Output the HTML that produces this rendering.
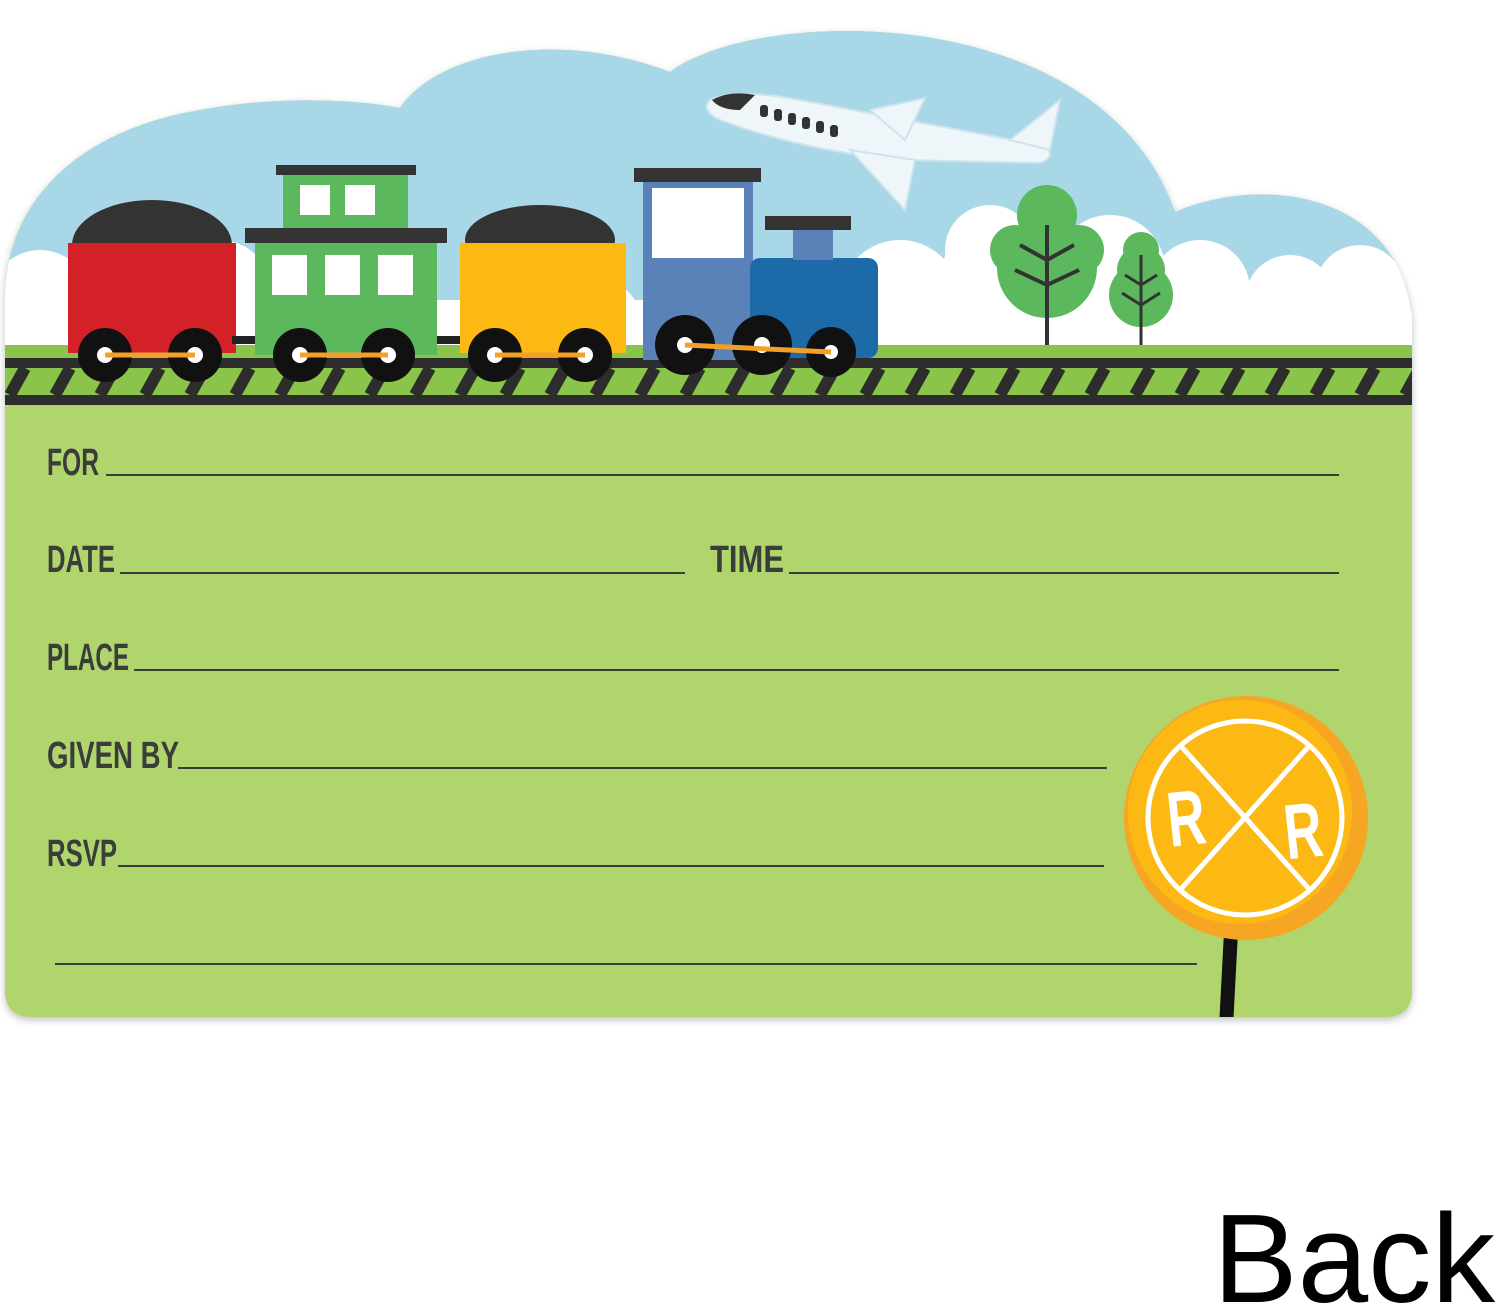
<!DOCTYPE html>
<html><head><meta charset="utf-8"><style>
html,body{margin:0;padding:0;background:#fff;width:1500px;height:1312px;overflow:hidden}
svg{display:block}
</style></head><body>
<svg width="1500" height="1312" viewBox="0 0 1500 1312" xmlns="http://www.w3.org/2000/svg">
<defs>
<clipPath id="card"><path d="M5,990 L5,300 C5,200 80,130 200,110 C280,95 360,100 400,108 C440,50 560,30 670,72 C760,5 1100,0 1175,212 C1260,175 1400,190 1412,320 L1412,990 Q1412,1017 1385,1017 L32,1017 Q5,1017 5,990 Z"/></clipPath>
<filter id="sh" x="-5%" y="-5%" width="110%" height="110%"><feDropShadow dx="0" dy="3" stdDeviation="4" flood-color="#000" flood-opacity="0.25"/></filter>
</defs>
<path filter="url(#sh)" fill="#b0d56c" d="M5,990 L5,300 C5,200 80,130 200,110 C280,95 360,100 400,108 C440,50 560,30 670,72 C760,5 1100,0 1175,212 C1260,175 1400,190 1412,320 L1412,990 Q1412,1017 1385,1017 L32,1017 Q5,1017 5,990 Z"/>
<g clip-path="url(#card)">
<rect x="0" y="0" width="1420" height="350" fill="#a8d8e8"/>
<g fill="#fff">
<circle cx="40" cy="300" r="50"/><circle cx="110" cy="310" r="45"/><circle cx="220" cy="290" r="50"/>
<circle cx="900" cy="300" r="60"/><circle cx="990" cy="250" r="45"/><circle cx="1000" cy="280" r="60"/>
<circle cx="1110" cy="270" r="55"/><circle cx="1200" cy="290" r="50"/><circle cx="1290" cy="300" r="45"/>
<circle cx="1360" cy="290" r="45"/><circle cx="1410" cy="300" r="40"/>
<circle cx="600" cy="320" r="40"/><circle cx="820" cy="320" r="40"/>
<rect x="0" y="300" width="1420" height="50"/>
</g>
<rect x="0" y="345" width="1420" height="14" fill="#8bc44a"/>
<rect x="0" y="358" width="1420" height="47" fill="#2d2d2d"/>
<rect x="0" y="368" width="1420" height="27" fill="#8bc44a"/>
<g stroke="#2d2d2d" stroke-width="12">
<path d="M10,395 L25,368 M55,395 L70,368 M100,395 L115,368 M145,395 L160,368 M190,395 L205,368 M235,395 L250,368 M280,395 L295,368 M325,395 L340,368 M370,395 L385,368 M415,395 L430,368 M460,395 L475,368 M505,395 L520,368 M550,395 L565,368 M595,395 L610,368 M640,395 L655,368 M685,395 L700,368 M730,395 L745,368 M775,395 L790,368 M820,395 L835,368 M865,395 L880,368 M910,395 L925,368 M955,395 L970,368 M1000,395 L1015,368 M1045,395 L1060,368 M1090,395 L1105,368 M1135,395 L1150,368 M1180,395 L1195,368 M1225,395 L1240,368 M1270,395 L1285,368 M1315,395 L1330,368 M1360,395 L1375,368 M1405,395 L1420,368"/>
</g>
<rect x="0" y="405" width="1420" height="620" fill="#b0d56c"/>
<path d="M710,100 Q740,88 800,100 L1040,145 Q1060,155 1040,163 L900,160 Q800,150 720,120 Q700,110 710,100Z" fill="#eef6fa" stroke="#cfe3ec" stroke-width="2"/>
<path d="M870,110 L925,98 L905,140Z M850,150 L905,210 L915,160Z M1010,140 L1060,100 L1050,150Z" fill="#eef6fa" stroke="#cfe3ec" stroke-width="2"/>
<path d="M712,100 Q730,90 755,95 L740,110 Q720,110 712,100Z" fill="#333"/>
<g fill="#333"><rect x="760" y="105" width="8" height="12" rx="3"/><rect x="774" y="109" width="8" height="12" rx="3"/><rect x="788" y="113" width="8" height="12" rx="3"/><rect x="802" y="117" width="8" height="12" rx="3"/><rect x="816" y="121" width="8" height="12" rx="3"/><rect x="830" y="125" width="8" height="12" rx="3"/></g>
<circle cx="1047" cy="268" r="50" fill="#5cb85c"/><circle cx="1047" cy="215" r="30" fill="#5cb85c"/><circle cx="1015" cy="250" r="25" fill="#5cb85c"/><circle cx="1079" cy="250" r="25" fill="#5cb85c"/>
<path d="M1047,225 V345 M1047,260 L1020,245 M1047,260 L1074,245 M1047,285 L1015,270 M1047,285 L1079,270" stroke="#333" stroke-width="4" fill="none"/>
<circle cx="1141" cy="295" r="32" fill="#5cb85c"/><circle cx="1141" cy="250" r="18" fill="#5cb85c"/><circle cx="1141" cy="270" r="24" fill="#5cb85c"/>
<path d="M1141,255 V345 M1141,285 L1125,275 M1141,285 L1157,275 M1141,305 L1122,293 M1141,305 L1160,293" stroke="#333" stroke-width="3" fill="none"/>
<ellipse cx="152" cy="245" rx="80" ry="45" fill="#333"/>
<rect x="68" y="243" width="168" height="110" fill="#d42027"/>
<line x1="232" y1="340" x2="460" y2="340" stroke="#222" stroke-width="8"/>
<rect x="283" y="170" width="125" height="65" fill="#5cb85c"/><rect x="276" y="165" width="140" height="10" fill="#333"/>
<rect x="300" y="185" width="30" height="30" fill="#fff"/><rect x="345" y="185" width="30" height="30" fill="#fff"/>
<rect x="255" y="240" width="182" height="115" fill="#5cb85c"/><rect x="245" y="228" width="202" height="15" fill="#333"/>
<rect x="272" y="255" width="35" height="40" fill="#fff"/><rect x="325" y="255" width="35" height="40" fill="#fff"/><rect x="378" y="255" width="35" height="40" fill="#fff"/>
<ellipse cx="540" cy="240" rx="75" ry="35" fill="#333"/>
<rect x="460" y="243" width="166" height="110" fill="#fdb913"/>
<rect x="643" y="180" width="110" height="180" fill="#5b82b8"/><rect x="634" y="168" width="127" height="14" fill="#333"/>
<rect x="652" y="188" width="92" height="70" fill="#fff"/>
<rect x="750" y="258" width="128" height="100" rx="10" fill="#1c6aa8"/>
<rect x="793" y="225" width="40" height="35" fill="#5b82b8"/><rect x="765" y="216" width="86" height="14" fill="#333"/>
<g fill="#111">
<circle cx="105" cy="355" r="27"/><circle cx="195" cy="355" r="27"/>
<circle cx="300" cy="355" r="27"/><circle cx="388" cy="355" r="27"/>
<circle cx="495" cy="355" r="27"/><circle cx="585" cy="355" r="27"/>
<circle cx="685" cy="345" r="30"/><circle cx="762" cy="345" r="30"/><circle cx="831" cy="352" r="25"/>
</g>
<g fill="#fff">
<circle cx="105" cy="355" r="8"/><circle cx="195" cy="355" r="8"/><circle cx="300" cy="355" r="8"/><circle cx="388" cy="355" r="8"/><circle cx="495" cy="355" r="8"/><circle cx="585" cy="355" r="8"/><circle cx="685" cy="345" r="8"/><circle cx="762" cy="345" r="8"/><circle cx="831" cy="352" r="7"/>
</g>
<g stroke="#f2a02a" stroke-width="5"><line x1="105" y1="355" x2="195" y2="355"/><line x1="300" y1="355" x2="388" y2="355"/><line x1="495" y1="355" x2="585" y2="355"/><line x1="685" y1="345" x2="831" y2="352"/></g>
<rect x="1222" y="920" width="14" height="100" fill="#111" transform="rotate(3 1229 970)"/>
<circle cx="1246" cy="818" r="122" fill="#f6a623"/>
<circle cx="1240" cy="812" r="112" fill="#fdb913"/>
<circle cx="1245" cy="818" r="97" fill="none" stroke="#fff" stroke-width="5"/>
<path d="M1180,745 L1310,890 M1310,745 L1180,890" stroke="#fff" stroke-width="5"/>
<text x="1170" y="845" font-family="Liberation Sans Narrow, Liberation Sans, sans-serif" font-weight="bold" font-size="78" fill="#fff" textLength="38" lengthAdjust="spacingAndGlyphs" transform="rotate(-6 1188 845)">R</text>
<text x="1287" y="858" font-family="Liberation Sans Narrow, Liberation Sans, sans-serif" font-weight="bold" font-size="78" fill="#fff" textLength="38" lengthAdjust="spacingAndGlyphs" transform="rotate(-6 1300 858)">R</text>
</g>
<g font-family="Liberation Sans Narrow, Liberation Sans, sans-serif" font-weight="bold" font-size="38" fill="#3a3d3a">
<text x="47" y="475" textLength="52" lengthAdjust="spacingAndGlyphs">FOR</text>
<text x="47" y="572" textLength="68" lengthAdjust="spacingAndGlyphs">DATE</text>
<text x="710" y="572" textLength="74" lengthAdjust="spacingAndGlyphs">TIME</text>
<text x="47" y="670" textLength="82" lengthAdjust="spacingAndGlyphs">PLACE</text>
<text x="47" y="768" textLength="132" lengthAdjust="spacingAndGlyphs">GIVEN BY</text>
<text x="47" y="866" textLength="70" lengthAdjust="spacingAndGlyphs">RSVP</text>
</g>
<g stroke="#3a3d3a" stroke-width="2">
<line x1="106" y1="475" x2="1339" y2="475"/>
<line x1="120" y1="573" x2="685" y2="573"/>
<line x1="789" y1="573" x2="1339" y2="573"/>
<line x1="134" y1="670" x2="1339" y2="670"/>
<line x1="178" y1="768" x2="1107" y2="768"/>
<line x1="118" y1="866" x2="1104" y2="866"/>
<line x1="55" y1="964" x2="1197" y2="964"/>
</g>
<text x="1213" y="1302" font-family="Liberation Sans, sans-serif" font-size="126" fill="#000" textLength="282" lengthAdjust="spacingAndGlyphs">Back</text>
</svg>
</body></html>
